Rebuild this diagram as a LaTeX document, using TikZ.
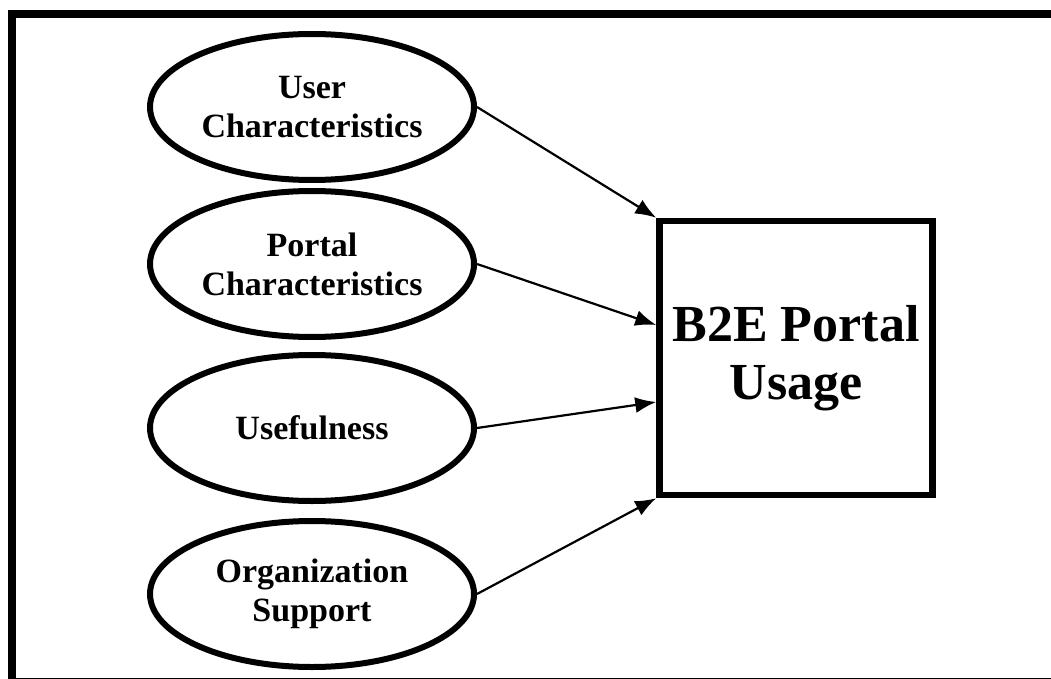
\documentclass[tikz,border=0pt]{standalone}
\usepackage{fontspec}
\setmainfont{Liberation Serif}
\usetikzlibrary{shapes.geometric}
\usetikzlibrary{arrows.meta}
\tikzset{
  factor/.style={ellipse, draw, line width=6pt, minimum width=324pt,
    minimum height=146pt, inner sep=0pt, align=center,
    font=\fontsize{34}{39}\selectfont\bfseries},
  usagebox/.style={rectangle, draw, line width=6.5pt, minimum width=273pt,
    minimum height=274pt, inner sep=0pt, align=center,
    font=\fontsize{52}{58}\selectfont\bfseries},
  link/.style={line width=2.2pt, arrows={-Latex[length=21pt,width=16pt]}}
}

\begin{document}
\begin{tikzpicture}[x=1pt,y=-1pt]
        \useasboundingbox (0,0) rectangle (1051,679);
        % Draw outer frame (right and bottom sides fall off the page)
        \draw[line width=8pt] (12,14) rectangle (1058,682);
        % Antecedent factors
        \node[factor] (user) at (312,107) {User\\Characteristics};
        \node[factor] (portal) at (312,264) {Portal\\Characteristics};
        \node[factor] (useful) at (312,428) {Usefulness};
        \node[factor] (orgsupp) at (312,594) {Organization\\Support};
        % Dependent construct
        \node[usagebox] (usage) at (796,358) {B2E Portal\\Usage};
        % Connect factors to usage
        \draw[link] (user.east) -- (usage.north west);
        \draw[link] (portal.east) -- ([yshift=33pt]usage.west);
        \draw[link] (useful.east) -- ([yshift=-44pt]usage.west);
        \draw[link] (orgsupp.east) -- (usage.south west);
      \end{tikzpicture}
\end{document}
